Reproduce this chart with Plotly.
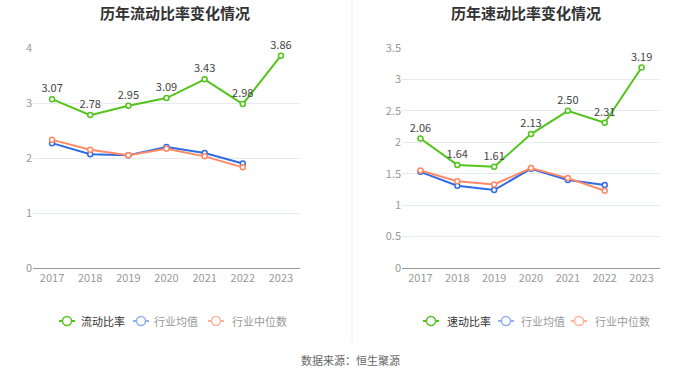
import plotly.graph_objects as go

years = ["2017", "2018", "2019", "2020", "2021", "2022", "2023"]
current_ratio = [3.07, 2.78, 2.95, 3.09, 3.43, 2.98, 3.86]
current_avg = [2.27, 2.07, 2.05, 2.20, 2.09, 1.90]
current_median = [2.33, 2.15, 2.05, 2.17, 2.03, 1.83]
quick_ratio = [2.06, 1.64, 1.61, 2.13, 2.50, 2.31, 3.19]
quick_avg = [1.53, 1.31, 1.24, 1.58, 1.40, 1.32]
quick_median = [1.55, 1.38, 1.33, 1.59, 1.43, 1.23]
left_legend = ["流动比率", "行业均值", "行业中位数"]
right_legend = ["速动比率", "行业均值", "行业中位数"]

GREEN = "#52c41a"
BLUE = "#2f6be6"
ORANGE = "#ff8a65"
BLUE_L = "#8fb0f2"
ORANGE_L = "#ffb29c"
FONT = "Noto Sans CJK SC"

W, H = 700, 378

fig = go.Figure()

def px(x):
    return x / W

def py(y):
    return (H - y) / H

def add_panel(main, avg, med, main_name, xa, ya):
    fig.add_trace(go.Scatter(
        x=years, y=main, mode="lines+markers+text", name=main_name,
        text=[f"{v:.2f}" for v in main], textposition="top center",
        textfont=dict(size=11, color="#444", family=FONT),
        line=dict(color=GREEN, width=2),
        marker=dict(symbol="circle", size=5, color="white", line=dict(color=GREEN, width=1.5)),
        xaxis=xa, yaxis=ya, cliponaxis=False))
    fig.add_trace(go.Scatter(
        x=years[:len(avg)], y=avg, mode="lines+markers", name="行业均值",
        line=dict(color=BLUE, width=2),
        marker=dict(symbol="circle", size=5, color="white", line=dict(color=BLUE, width=1.5)),
        xaxis=xa, yaxis=ya))
    fig.add_trace(go.Scatter(
        x=years[:len(med)], y=med, mode="lines+markers", name="行业中位数",
        line=dict(color=ORANGE, width=2),
        marker=dict(symbol="circle", size=5, color="white", line=dict(color=ORANGE, width=1.5)),
        xaxis=xa, yaxis=ya))

add_panel(current_ratio, current_avg, current_median, left_legend[0], "x", "y")
add_panel(quick_ratio, quick_avg, quick_median, right_legend[0], "x2", "y2")

axis_common = dict(type="category", range=[-0.5, 6.5], showgrid=False, showline=True,
                   linecolor="#999", linewidth=1, ticks="", tickfont=dict(size=11, color="#999"),
                   zeroline=False, fixedrange=True)
yaxis_common = dict(showgrid=True, gridcolor="#e6eaf3", gridwidth=1, showline=False,
                    zeroline=False, tickfont=dict(size=11, color="#999"), ticks="", fixedrange=True)

fig.update_layout(
    width=W, height=H,
    margin=dict(l=0, r=0, t=0, b=0, pad=0, autoexpand=False),
    paper_bgcolor="white", plot_bgcolor="white",
    font=dict(family=FONT, size=11, color="#333"),
    showlegend=False,
    hovermode=False,
    xaxis=dict(domain=[px(33), px(300)], anchor="y", **axis_common),
    yaxis=dict(domain=[py(268), py(48)], anchor="x", range=[0, 4], dtick=1, **yaxis_common),
    xaxis2=dict(domain=[px(402), px(660)], anchor="y2", **axis_common),
    yaxis2=dict(domain=[py(268), py(48)], anchor="x2", range=[0, 3.5], dtick=0.5, **yaxis_common),
)

# titles and source
fig.add_annotation(text="<b>历年流动比率变化情况</b>", x=px(175), y=py(12), xref="paper", yref="paper",
                   showarrow=False, font=dict(size=15, color="#333", family=FONT), xanchor="center", yanchor="middle")
fig.add_annotation(text="<b>历年速动比率变化情况</b>", x=px(526), y=py(12), xref="paper", yref="paper",
                   showarrow=False, font=dict(size=15, color="#333", family=FONT), xanchor="center", yanchor="middle")
fig.add_annotation(text="数据来源：恒生聚源", x=px(350), y=py(360), xref="paper", yref="paper",
                   showarrow=False, font=dict(size=11, color="#666", family=FONT), xanchor="center", yanchor="middle")
fig.add_shape(type="line", xref="paper", yref="paper", x0=px(352), x1=px(352), y0=py(342), y1=1,
              line=dict(color="#eeeeee", width=1))

# manual legends
def legend_item(cx, tx, col, label, tcol):
    y = 321
    fig.add_shape(type="line", xref="paper", yref="paper", x0=px(cx - 8), x1=px(cx + 8),
                  y0=py(y), y1=py(y), line=dict(color=col, width=2))
    fig.add_shape(type="circle", xref="paper", yref="paper", x0=px(cx - 4.5), x1=px(cx + 4.5),
                  y0=py(y + 4.5), y1=py(y - 4.5), fillcolor="white", line=dict(color=col, width=1.5))
    fig.add_annotation(text=label, x=px(tx), y=py(y), xref="paper", yref="paper", showarrow=False,
                       xanchor="left", yanchor="middle", font=dict(size=11, color=tcol, family=FONT))

legend_item(67, 79, GREEN, left_legend[0], "#333")
legend_item(141, 152, BLUE_L, left_legend[1], "#999")
legend_item(216, 230, ORANGE_L, left_legend[2], "#999")
legend_item(431, 445, GREEN, right_legend[0], "#333")
legend_item(506, 519, BLUE_L, right_legend[1], "#999")
legend_item(579, 593, ORANGE_L, right_legend[2], "#999")

fig.write_html("out.html", config={"displayModeBar": False, "staticPlot": True},
               post_script="document.body.style.margin='0px';")
